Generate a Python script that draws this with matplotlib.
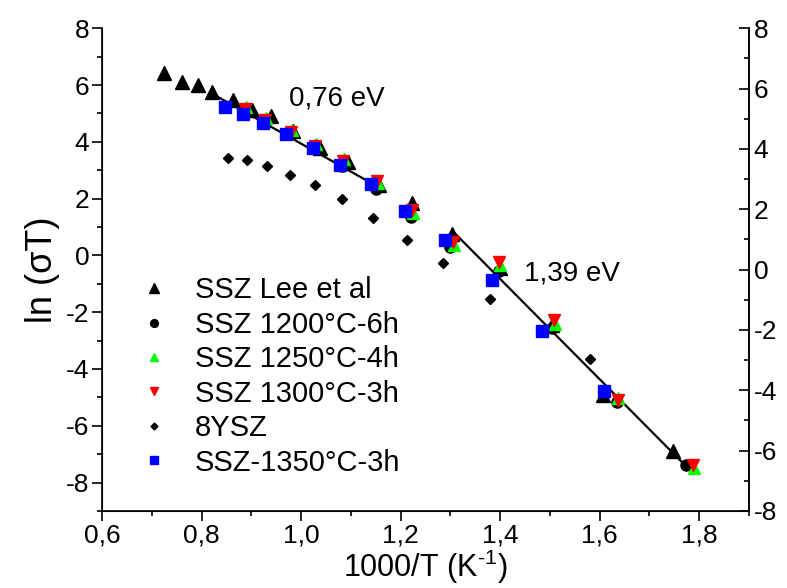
import numpy as np
import matplotlib.pyplot as plt
from matplotlib.ticker import MultipleLocator, FuncFormatter

plt.rcParams['font.family'] = ['Liberation Sans', 'DejaVu Sans']
plt.rcParams['axes.unicode_minus'] = False

# SSZ Lee et al
lee_x = [0.725, 0.760, 0.792, 0.822, 0.863, 0.902, 0.940, 0.984, 1.038, 1.094,
         1.157, 1.223, 1.304, 1.400, 1.505, 1.607, 1.748]
lee_y = [6.43, 6.10, 5.99, 5.74, 5.47, 5.11, 4.90, 4.37, 3.79, 3.29,
         2.47, 1.83, 0.77, -0.45, -2.45, -4.92, -6.88]

# SSZ 1200°C-6h
s1200_x = [0.885, 0.927, 0.975, 1.027, 1.083, 1.150, 1.220, 1.300, 1.398, 1.505, 1.634, 1.773]
s1200_y = [5.05, 4.70, 4.27, 3.78, 3.15, 2.35, 1.34, 0.30, -0.55, -2.55, -5.15, -7.38]

# SSZ 1250°C-4h
s1250_x = [0.889, 0.930, 0.982, 1.030, 1.086, 1.155, 1.225, 1.307, 1.400, 1.510, 1.637, 1.790]
s1250_y = [5.22, 4.85, 4.40, 3.92, 3.38, 2.55, 1.50, 0.38, -0.35, -2.40, -5.02, -7.48]

# SSZ 1300°C-3h
s1300_x = [0.887, 0.928, 0.980, 1.028, 1.084, 1.153, 1.223, 1.305, 1.398, 1.508, 1.636, 1.787]
s1300_y = [5.14, 4.76, 4.35, 3.86, 3.34, 2.61, 1.59, 0.48, -0.23, -2.28, -5.09, -7.38]

# 8YSZ
ysz_x = [0.854, 0.891, 0.931, 0.978, 1.028, 1.082, 1.145, 1.212, 1.286, 1.380, 1.580]
ysz_y = [3.43, 3.35, 3.14, 2.83, 2.47, 1.97, 1.30, 0.54, -0.28, -1.55, -3.64]

# SSZ-1350°C-3h
s1350_x = [0.847, 0.884, 0.924, 0.970, 1.023, 1.078, 1.140, 1.208, 1.289, 1.383, 1.485, 1.608]
s1350_y = [5.23, 4.97, 4.67, 4.28, 3.77, 3.20, 2.53, 1.57, 0.54, -0.85, -2.65, -4.77]

# fitted lines
fit1_x = [0.833, 1.157]
fit1_y = [5.58, 2.39]
fit2_x = [1.306, 1.771]
fit2_y = [0.83, -7.38]

fig = plt.figure(figsize=(7.87, 5.88), dpi=100)
ax = fig.add_axes([0.1296, 0.131, 0.8221, 0.821])

ax.plot(fit1_x, fit1_y, color='black', lw=1.6, zorder=1)
ax.plot(fit2_x, fit2_y, color='black', lw=1.6, zorder=1)

ax.plot(lee_x, lee_y, '^', color='black', ms=9.5, ls='none', label='SSZ Lee et al')
ax.plot(s1200_x, s1200_y, 'o', color='black', ms=8, ls='none', label='SSZ 1200°C-6h')
ax.plot(s1250_x, s1250_y, '^', color='#00ff00', ms=8, ls='none', label='SSZ 1250°C-4h')
ax.plot(s1300_x, s1300_y, 'v', color='#ff0000', ms=8, ls='none', label='SSZ 1300°C-3h')
ax.plot(ysz_x, ysz_y, 'D', color='black', ms=5, ls='none', label='8YSZ')
ax.plot(s1350_x, s1350_y, 's', color='#0000ff', ms=8, ls='none', label='SSZ-1350°C-3h')

ax.text(1.072, 5.54, '0,76 eV', fontsize=20, ha='center', va='center')
ax.text(1.544, -0.62, '1,39 eV', fontsize=20, ha='center', va='center')

ax.set_xlim(0.6, 1.9)
ax.set_ylim(-9, 8)
ax.xaxis.set_major_locator(MultipleLocator(0.2))
ax.xaxis.set_minor_locator(MultipleLocator(0.1))
ax.yaxis.set_major_locator(MultipleLocator(2))
ax.yaxis.set_minor_locator(MultipleLocator(1))
ax.xaxis.set_major_formatter(FuncFormatter(lambda v, p: f'{v:.1f}'.replace('.', ',')))
ax.yaxis.set_major_formatter(FuncFormatter(lambda v, p: f'{v:.0f}'))
ax.tick_params(which='both', direction='out', labelsize=19, width=1.2)
ax.tick_params(which='major', length=7, pad=2)
ax.tick_params(which='minor', length=3.5)
ax.spines['top'].set_visible(False)
for s in ['left', 'bottom', 'right']:
    ax.spines[s].set_linewidth(1.2)

ax.set_xlabel('1000/T (K$^{\\mathregular{\u20101}}$)', fontsize=22, labelpad=0)
ax.set_ylabel('ln (σT)', fontsize=26, labelpad=4)

ax2 = ax.twinx()
ax2.set_ylim(-8, 8)
ax2.yaxis.set_major_locator(MultipleLocator(2))
ax2.yaxis.set_minor_locator(MultipleLocator(1))
ax2.yaxis.set_major_formatter(FuncFormatter(lambda v, p: f'{v:.0f}'))
ax2.tick_params(which='both', direction='in', labelsize=19, width=1.2)
ax2.tick_params(which='major', length=7)
ax2.tick_params(which='minor', length=3.5)
ax2.spines['top'].set_visible(False)
ax2.spines['right'].set_linewidth(1.2)

ax.legend(loc='upper left', bbox_to_anchor=(0.04, 0.51), frameon=False, fontsize=21,
          markerscale=0.7, handlelength=1.0, handletextpad=0.9, labelspacing=0.22,
          borderaxespad=0)

fig.savefig('out.png', dpi=100)
